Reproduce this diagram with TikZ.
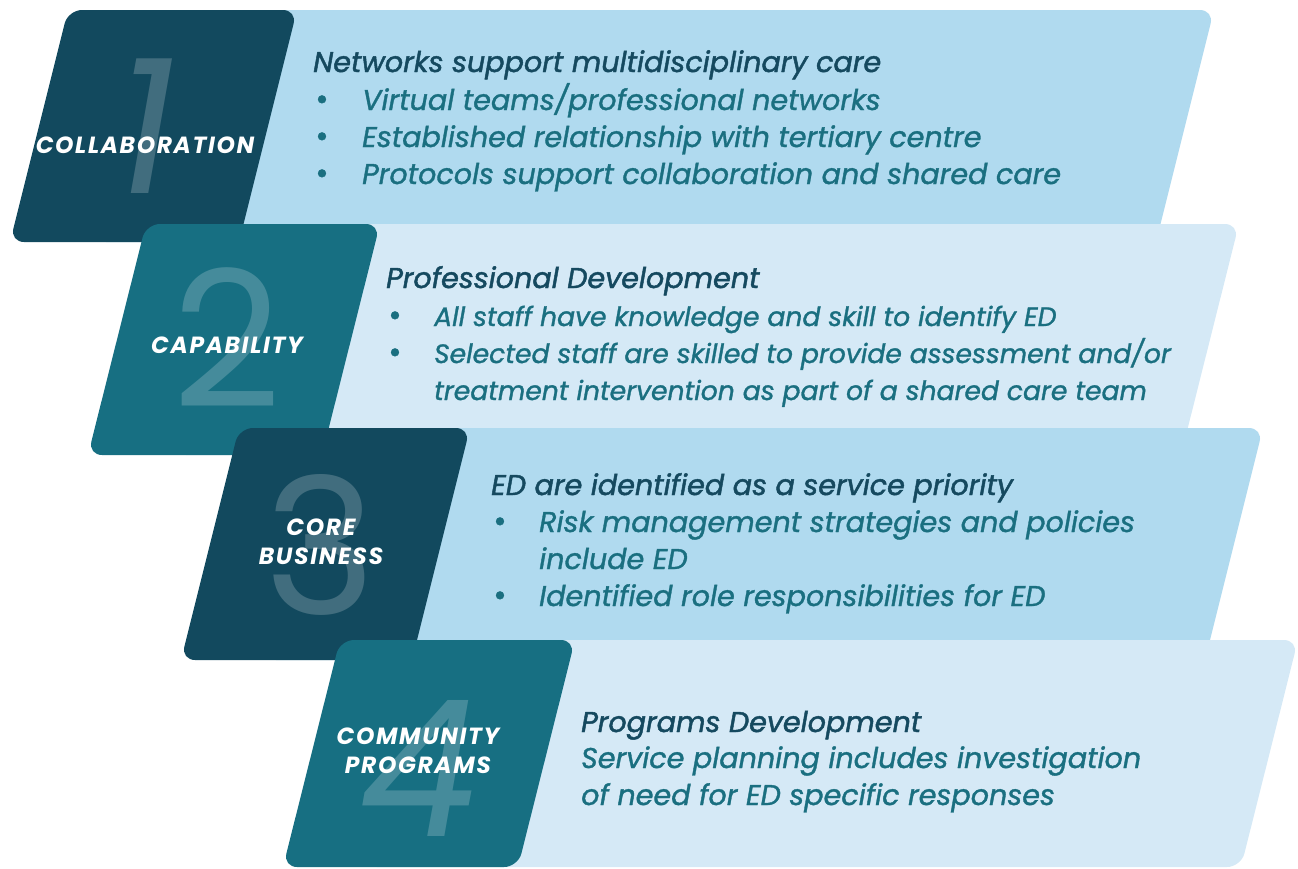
\documentclass[tikz,border=0pt]{standalone}
\usepackage{fontspec}
\setmainfont{Poppins}
\newfontfamily\labelfont{Poppins}[LetterSpace=7]
\newfontfamily\numfont{Poppins}
\newfontfamily\headfont{Poppins}[FakeBold=1.6]
\newfontfamily\itemfont{Poppins}[FakeBold=1.2]
\definecolor{navy}{HTML}{12495E}
\definecolor{teal}{HTML}{176F82}
\definecolor{lightA}{HTML}{B0DAEF}
\definecolor{lightB}{HTML}{D5E9F6}
\definecolor{headc}{HTML}{15495F}
\definecolor{bulc}{HTML}{1A6F80}
\tikzset{
  shp/.style={rounded corners=14pt},
  bignum/.style={text=white, text opacity=0.2, inner sep=0pt, anchor=center, font=\numfont\fontsize{190}{190}\selectfont},
  lbl/.style={text=white, align=center, inner sep=0pt, font=\labelfont\bfseries\itshape\fontsize{23.4}{29}\selectfont},
  head/.style={text=headc, inner sep=0pt, anchor=base west, font=\headfont\itshape\fontsize{28.6}{32}\selectfont},
  item/.style={text=bulc, inner sep=0pt, anchor=base west, font=\itemfont\itshape\fontsize{28.6}{32}\selectfont},
  itemsm/.style={text=bulc, inner sep=0pt, anchor=base west, font=\itemfont\itshape\fontsize{26.6}{32}\selectfont},
  dot/.style={text=bulc, inner sep=0pt, anchor=base, font=\itemfont\fontsize{32}{32}\selectfont}
}
\begin{document}
\begin{tikzpicture}[x=1pt,y=-1pt]
\useasboundingbox (0,0) rectangle (1298,868);
% band 1
\fill[lightA,shp] (150,10) -- (1214,10) -- (1156,242) -- (92,242) -- cycle;
\fill[navy,shp] (68,10) -- (297,10) -- (239,242) -- (10,242) -- cycle;
\node[bignum] (n1) at (146,126) {\itshape 1};
\node[lbl] (l1) at (145,145) {COLLABORATION};
\node[head] (h1) at (313,72) {Networks support multidisciplinary care};
\node[dot] (d11) at (322,110) {•};
\node[item] (t11) at (362,110) {Virtual teams/professional networks};
\node[dot] (d12) at (322,147) {•};
\node[item] (t12) at (362,147) {Established relationship with tertiary centre};
\node[dot] (d13) at (322,184) {•};
\node[item] (t13) at (362,184) {Protocols support collaboration and shared care};
% band 2
\fill[lightB,shp] (230,224) -- (1239,224) -- (1181,455) -- (172,455) -- cycle;
\fill[teal,shp] (146,224) -- (380,224) -- (322,455) -- (88,455) -- cycle;
\node[bignum] (n2) at (227,338) {2};
\node[lbl] (l2) at (227,345) {CAPABILITY};
\node[head] (h2) at (386,288) {Professional Development};
\node[dot] (d21) at (395,326) {•};
\node[itemsm] (t21) at (434,326) {All staff have knowledge and skill to identify ED};
\node[dot] (d22) at (395,363) {•};
\node[itemsm] (t22) at (434,363) {Selected staff are skilled to provide assessment and/or};
\node[itemsm] (t23) at (434,400) {treatment intervention as part of a shared care team};
% band 3
\fill[lightA,shp] (320,428) -- (1263,428) -- (1205,660) -- (262,660) -- cycle;
\fill[navy,shp] (239,428) -- (470,428) -- (412,660) -- (181,660) -- cycle;
\node[bignum] (n3) at (320,545) {3};
\node[lbl] (l3) at (321,542) {CORE\\BUSINESS};
\node[head] (h3) at (491,495) {ED are identified as a service priority};
\node[dot] (d31) at (500,532) {•};
\node[item] (t31) at (539,532) {Risk management strategies and policies};
\node[item] (t32) at (539,569) {include ED};
\node[dot] (d32) at (500,606) {•};
\node[item] (t33) at (539,606) {Identified role responsibilities for ED};
% band 4
\fill[lightB,shp] (420,640) -- (1298,640) -- (1241,867) -- (363,867) -- cycle;
\fill[teal,shp] (340,640) -- (575,640) -- (518,867) -- (283,867) -- cycle;
\node[bignum] (n4) at (419,768) {\itshape 4};
\node[lbl] (l4) at (418,751) {COMMUNITY\\PROGRAMS};
\node[head] (h4) at (581,732) {Programs Development};
\node[item] (t41) at (581,768) {Service planning includes investigation};
\node[item] (t42) at (581,805) {of need for ED specific responses};
\end{tikzpicture}
\end{document}
